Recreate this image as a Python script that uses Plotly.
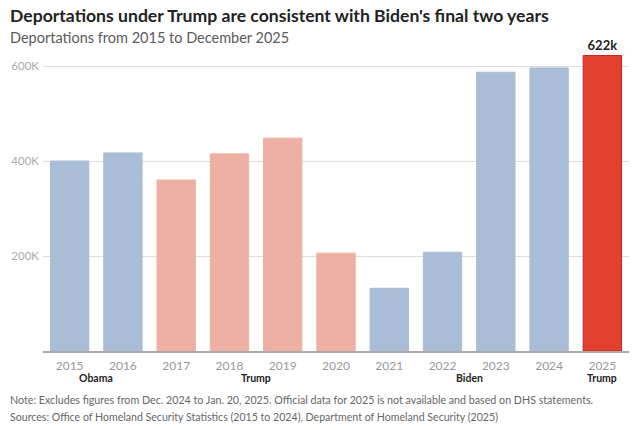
import plotly.graph_objects as go

years = ["2015", "2016", "2017", "2018", "2019", "2020", "2021", "2022", "2023", "2024", "2025"]
deportations = [400000, 417000, 360000, 415000, 448000, 206000, 132000, 208000, 587000, 596000, 622000]
admin = ["Obama", "Obama", "Trump", "Trump", "Trump", "Trump", "Biden", "Biden", "Biden", "Biden", "Trump2"]
admin_labels = {"Obama": "Obama", "Trump": "Trump", "Biden": "Biden", "Trump2": "Trump"}
ytick_vals = [0, 200000, 400000, 600000]
ytick_text = ["", "200K", "400K", "600K"]

fill = {"Obama": "#aabdd6", "Biden": "#aabdd6", "Trump": "#eeb0a3", "Trump2": "#e2402e"}
edge = {"Obama": "#aabdd6", "Biden": "#aabdd6", "Trump": "#eeb0a3", "Trump2": "#cc2010"}

FONT = "Lato"

texts = ["" for _ in years]
texts[-1] = f"{deportations[-1] // 1000}k"

fig = go.Figure(go.Bar(
    x=years, y=deportations,
    marker=dict(color=[fill[a] for a in admin],
                line=dict(color=[edge[a] for a in admin], width=1)),
    text=texts, textposition="outside", cliponaxis=False,
    textfont=dict(family=FONT, size=13, color="#222222", weight="bold"),
    width=0.72, hoverinfo="x+y",
))

# group labels centered under the years of each administration
groups = []
for i, a in enumerate(admin):
    if groups and groups[-1][0] == a:
        groups[-1][1].append(i)
    else:
        groups.append((a, [i]))
annotations = []
for a, idx in groups:
    annotations.append(dict(
        x=(idx[0] + idx[-1]) / 2, xref="x", y=-0.089, yref="paper",
        text=f"<b>{admin_labels[a]}</b>", showarrow=False,
        font=dict(family=FONT, size=10.5, color="#222222"),
        xanchor="center", yanchor="middle",
    ))

annotations += [
    dict(x=-0.06, xref="paper", y=1.102, yref="paper", xanchor="left", yanchor="middle",
         text="<b>Deportations under Trump are consistent with Biden's final two years</b>",
         showarrow=False, font=dict(family=FONT, size=17.6, color="#222222")),
    dict(x=-0.06, xref="paper", y=1.03, yref="paper", xanchor="left", yanchor="middle",
         text="Deportations from 2015 to December 2025",
         showarrow=False, font=dict(family=FONT, size=14.5, color="#5a5a5a")),
    dict(x=-0.06, xref="paper", y=-0.158, yref="paper", xanchor="left", yanchor="middle",
         text="Note: Excludes figures from Dec. 2024 to Jan. 20, 2025. Official data for 2025 is not available and based on DHS statements.",
         showarrow=False, font=dict(family=FONT, size=10.7, color="#666666")),
    dict(x=-0.06, xref="paper", y=-0.217, yref="paper", xanchor="left", yanchor="middle",
         text="Sources: Office of Homeland Security Statistics (2015 to 2024), Department of Homeland Security (2025)",
         showarrow=False, font=dict(family=FONT, size=10.6, color="#666666")),
]

fig.update_layout(
    width=640, height=430,
    margin=dict(l=43, r=11, t=47, b=79, autoexpand=False),
    paper_bgcolor="white", plot_bgcolor="white",
    showlegend=False,
    bargap=0.28,
    font=dict(family=FONT),
    xaxis=dict(
        type="category", showgrid=False, showline=True, linecolor="#aaaaaa", linewidth=1.5,
        ticks="", tickfont=dict(family=FONT, size=12, color="#999999"),
        range=[-0.5, 10.5], automargin=False, ticklabelstandoff=3,
    ),
    yaxis=dict(
        range=[0, 640000], tickvals=ytick_vals, ticktext=ytick_text,
        showgrid=True, gridcolor="#dddddd", gridwidth=1, zeroline=False,
        ticks="", tickfont=dict(family=FONT, size=11.5, color="#aaaaaa"),
        ticklabelstandoff=3, automargin=False,
    ),
    annotations=annotations,
)

fig.write_html("out.html", config={"displayModeBar": False},
               post_script="document.body.style.margin='0';")
